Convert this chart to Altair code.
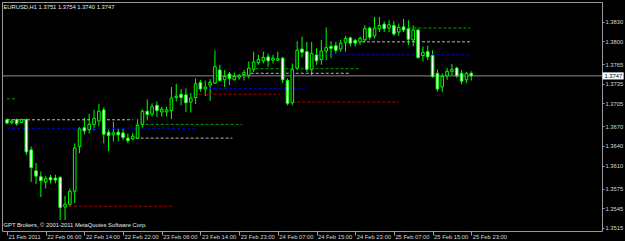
import json
import altair as alt
import pandas as pd

symbol = "EURUSD,H1"

open_ = [1.3680, 1.3676, 1.3680, 1.3676, 1.3680, 1.3634, 1.3602, 1.3593, 1.3585, 1.3592,
         1.3591, 1.3592, 1.3547, 1.3551, 1.3571, 1.3639, 1.3668, 1.3665, 1.3673, 1.3678,
         1.3695, 1.3661, 1.3657, 1.3661, 1.3660, 1.3652, 1.3651, 1.3652, 1.3673, 1.3693,
         1.3689, 1.3702, 1.3692, 1.3692, 1.3694, 1.3714, 1.3719, 1.3718, 1.3707, 1.3714,
         1.3737, 1.3727, 1.3733, 1.3736, 1.3756, 1.3741, 1.3750, 1.3741, 1.3745, 1.3749,
         1.3748, 1.3757, 1.3767, 1.3770, 1.3776, 1.3771, 1.3771, 1.3774, 1.3740, 1.3706,
         1.3759, 1.3788, 1.3784, 1.3757, 1.3779, 1.3772, 1.3785, 1.3792, 1.3793, 1.3788,
         1.3798, 1.3805, 1.3801, 1.3799, 1.3802, 1.3820, 1.3808, 1.3819, 1.3826, 1.3820,
         1.3824, 1.3814, 1.3822, 1.3819, 1.3802, 1.3817, 1.3778, 1.3784, 1.3778, 1.3751,
         1.3730, 1.3747, 1.3754, 1.3759, 1.3751, 1.3741, 1.3751]
high = [1.3682, 1.3681, 1.3682, 1.3682, 1.3682, 1.3639, 1.3614, 1.3601, 1.3594, 1.3596,
        1.3596, 1.3594, 1.3564, 1.3575, 1.3644, 1.3669, 1.3683, 1.3689, 1.3695, 1.3704,
        1.3699, 1.3665, 1.3677, 1.3666, 1.3666, 1.3659, 1.3660, 1.3681, 1.3696, 1.3711,
        1.3705, 1.3708, 1.3700, 1.3700, 1.3730, 1.3735, 1.3727, 1.3728, 1.3721, 1.3743,
        1.3741, 1.3740, 1.3742, 1.3786, 1.3764, 1.3756, 1.3753, 1.3752, 1.3750, 1.3756,
        1.3769, 1.3784, 1.3779, 1.3784, 1.3781, 1.3779, 1.3784, 1.3776, 1.3743, 1.3766,
        1.3800, 1.3807, 1.3799, 1.3799, 1.3789, 1.3802, 1.3821, 1.3800, 1.3799, 1.3802,
        1.3808, 1.3807, 1.3804, 1.3807, 1.3824, 1.3822, 1.3837, 1.3837, 1.3830, 1.3832,
        1.3831, 1.3827, 1.3834, 1.3832, 1.3824, 1.3819, 1.3792, 1.3793, 1.3786, 1.3757,
        1.3751, 1.3759, 1.3765, 1.3761, 1.3756, 1.3753, 1.3754]
low = [1.3673, 1.3673, 1.3671, 1.3675, 1.3626, 1.3585, 1.3582, 1.3562, 1.3575, 1.3583,
       1.3583, 1.3527, 1.3527, 1.3548, 1.3553, 1.3629, 1.3658, 1.3659, 1.3664, 1.3670,
       1.3644, 1.3632, 1.3647, 1.3647, 1.3649, 1.3644, 1.3649, 1.3650, 1.3668, 1.3679,
       1.3685, 1.3684, 1.3685, 1.3685, 1.3681, 1.3708, 1.3702, 1.3692, 1.3691, 1.3704,
       1.3723, 1.3716, 1.3709, 1.3735, 1.3738, 1.3730, 1.3733, 1.3740, 1.3741, 1.3740,
       1.3743, 1.3753, 1.3764, 1.3766, 1.3761, 1.3766, 1.3770, 1.3736, 1.3702, 1.3702,
       1.3756, 1.3775, 1.3753, 1.3748, 1.3764, 1.3764, 1.3771, 1.3774, 1.3781, 1.3784,
       1.3784, 1.3792, 1.3792, 1.3794, 1.3798, 1.3802, 1.3804, 1.3814, 1.3814, 1.3814,
       1.3808, 1.3808, 1.3814, 1.3794, 1.3792, 1.3773, 1.3769, 1.3771, 1.3744, 1.3723,
       1.3722, 1.3741, 1.3748, 1.3744, 1.3734, 1.3736, 1.3740]
close = [1.3675, 1.3678, 1.3674, 1.3680, 1.3631, 1.3607, 1.3594, 1.3587, 1.3590, 1.3588,
         1.3588, 1.3546, 1.3551, 1.3571, 1.3637, 1.3666, 1.3663, 1.3673, 1.3682, 1.3693,
         1.3658, 1.3656, 1.3660, 1.3657, 1.3653, 1.3648, 1.3655, 1.3671, 1.3693, 1.3688,
         1.3700, 1.3694, 1.3696, 1.3695, 1.3713, 1.3716, 1.3714, 1.3706, 1.3713, 1.3735,
         1.3727, 1.3730, 1.3737, 1.3761, 1.3740, 1.3746, 1.3743, 1.3746, 1.3747, 1.3752,
         1.3759, 1.3768, 1.3772, 1.3775, 1.3770, 1.3774, 1.3773, 1.3741, 1.3705, 1.3757,
         1.3786, 1.3783, 1.3757, 1.3781, 1.3770, 1.3785, 1.3790, 1.3789, 1.3786, 1.3797,
         1.3804, 1.3797, 1.3797, 1.3804, 1.3819, 1.3806, 1.3820, 1.3824, 1.3819, 1.3825,
         1.3811, 1.3821, 1.3817, 1.3803, 1.3817, 1.3775, 1.3783, 1.3776, 1.3746, 1.3727,
         1.3746, 1.3754, 1.3757, 1.3747, 1.3739, 1.3751, 1.3747]

time_labels = ["21 Feb 2011", "22 Feb 06:00", "22 Feb 14:00", "22 Feb 22:00",
               "23 Feb 06:00", "23 Feb 14:00", "23 Feb 23:00", "24 Feb 07:00",
               "24 Feb 15:00", "24 Feb 23:00", "25 Feb 07:00", "25 Feb 15:00",
               "25 Feb 23:00"]
bars_per_label = 8

y_ticks = [1.3830, 1.3800, 1.3765, 1.3735, 1.3705, 1.3670, 1.3640, 1.3610,
           1.3575, 1.3545, 1.3515]

level_price = [1.3712, 1.3680, 1.3667, 1.3673, 1.3652, 1.3548, 1.3719, 1.3728,
               1.3751, 1.3758, 1.3707, 1.3779, 1.3799, 1.3820]
level_start = [0, 0, 0, 26.6, 26.6, 11.8, 39.6, 40.7, 50.4, 51.4, 59, 64, 73.4, 83]
level_end = [2, 26, 38.8, 48.6, 46.6, 34.2, 56.5, 61.6, 70.8, 72.8, 81, 95.8, 95.8, 95.8]
level_kind = ["green", "silver", "blue", "green", "silver", "red", "red", "blue",
              "silver", "green", "red", "blue", "silver", "green"]

copyright_text = "GPT Brokers, \u00a9 2001-2011 MetaQuotes Software Corp."

# ---------------------------------------------------------------------------
n = len(open_)
df = pd.DataFrame({"idx": list(range(n)), "open": open_, "high": high,
                   "low": low, "close": close})
df["kind"] = ["bull" if c >= o else "bear" for o, c in zip(open_, close)]
df["body_top"] = df[["open", "close"]].max(axis=1)
df["body_bot"] = df[["open", "close"]].min(axis=1)

levels = pd.DataFrame({"price": level_price, "start": level_start,
                       "end": level_end, "kind": level_kind})

FONT = "Liberation Sans"
FS = 5.8
GREEN = "#00FF00"

xscale = alt.Scale(domain=[0, 122], nice=False, zero=False)
yscale = alt.Scale(domain=[1.35102, 1.38598], nice=False, zero=False)

label_expr = json.dumps(time_labels) + "[round(datum.value / %d)]" % bars_per_label
xaxis = alt.Axis(values=[i * bars_per_label for i in range(len(time_labels))],
                 labelExpr=label_expr, tickSize=4, tickColor="#A0A0A0",
                 labelAlign="left", labelBaseline="middle", labelPadding=1.5,
                 labelOffset=1.0, labelColor="#D8D8D8", labelFont=FONT,
                 labelFontSize=FS, domain=False, grid=False, title=None,
                 labelOverlap=False, labelFlush=False, labelBound=False)
yaxis = alt.Axis(orient="right", values=y_ticks, format=".4f", tickSize=2,
                 tickColor="#A0A0A0", labelColor="#D8D8D8", labelFont=FONT,
                 labelFontSize=FS, labelPadding=1, domain=False, grid=False,
                 title=None, labelOverlap=False, labelFlush=False, labelBound=False)

wicks = alt.Chart(df).mark_rule(color=GREEN, strokeWidth=1, clip=True).encode(
    x=alt.X("idx:Q", scale=xscale, axis=xaxis),
    y=alt.Y("low:Q", scale=yscale, axis=yaxis),
    y2="high:Q",
)

bodies = alt.Chart(df).mark_bar(width=2.6, stroke=GREEN, strokeWidth=1, clip=True).encode(
    x=alt.X("idx:Q", scale=xscale, axis=xaxis),
    y=alt.Y("body_bot:Q", scale=yscale, axis=yaxis),
    y2="body_top:Q",
    fill=alt.Fill("kind:N", scale=alt.Scale(domain=["bull", "bear"],
                                             range=["#000000", "#FFFFFF"]), legend=None),
)

level_rules = alt.Chart(levels).mark_rule(strokeDash=[3, 2], strokeWidth=1, clip=True).encode(
    x=alt.X("start:Q", scale=xscale, axis=xaxis),
    x2="end:Q",
    y=alt.Y("price:Q", scale=yscale, axis=yaxis),
    color=alt.Color("kind:N", scale=alt.Scale(domain=["green", "blue", "red", "silver"],
                                              range=["#00A000", "#0000E0", "#B00000", "#B8B8B8"]),
                    legend=None),
)

last = pd.DataFrame({"price": [close[-1]]})
price_line = alt.Chart(last).mark_rule(color="#8C8C8C", strokeWidth=1).encode(
    y=alt.Y("price:Q", scale=yscale, axis=yaxis),
)
price_box = alt.Chart(last).mark_rect(fill="#FFFFFF", stroke="#C0C0C0", strokeWidth=0.5,
                                      yOffset=-3.4, y2Offset=3.4).encode(
    x=alt.value(600.5), x2=alt.value(621.5),
    y=alt.Y("price:Q", scale=yscale, axis=yaxis),
    y2="price:Q",
)
price_text = alt.Chart(last).mark_text(align="left", baseline="middle", color="#000000",
                                       font=FONT, fontSize=FS).encode(
    x=alt.value(602.5),
    y=alt.Y("price:Q", scale=yscale, axis=yaxis),
    text=alt.Text("price:Q", format=".4f"),
)

header = "%s  %.4f %.4f %.4f %.4f" % (symbol, open_[-1], high[-1], low[-1], close[-1])
header_text = alt.Chart(pd.DataFrame({"t": [header]})).mark_text(
    align="left", baseline="middle", color="#E8E8E8", font=FONT, fontSize=FS).encode(
    x=alt.value(1.5), y=alt.value(4.5), text="t:N")
copy_text = alt.Chart(pd.DataFrame({"t": [copyright_text]})).mark_text(
    align="left", baseline="middle", color="#E8E8E8", font=FONT, fontSize=FS).encode(
    x=alt.value(1.5), y=alt.value(223), text="t:N")

chart = alt.layer(wicks, level_rules, price_line, bodies, price_box, price_text,
                  header_text, copy_text).properties(
    width=600, height=229,
    autosize=alt.AutoSizeParams(type="none"),
    padding={"left": 2, "top": 2, "right": 23, "bottom": 10},
    background="#000000",
).configure_view(stroke="#9A9A9A", strokeWidth=1, fill="#000000")

chart.save("out.html", embed_options={"renderer": "svg", "actions": False})
